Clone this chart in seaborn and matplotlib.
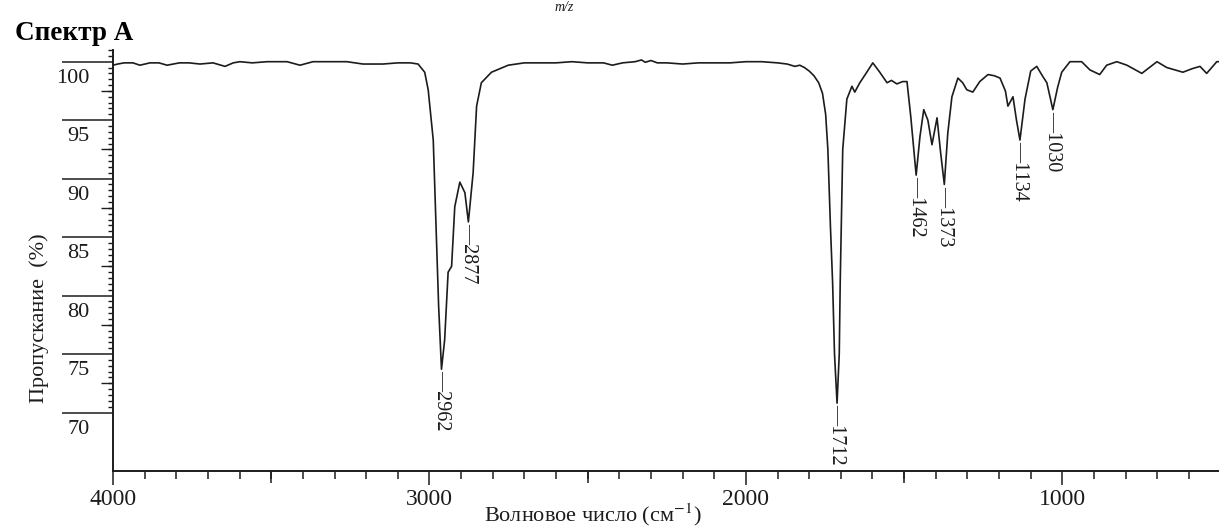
import numpy as np
import pandas as pd
import matplotlib
matplotlib.use('Agg')
import matplotlib.pyplot as plt
import matplotlib.transforms as mtransforms
import seaborn as sns

# ИК-спектр: волновое число (см-1) и пропускание (%)
wavenumber = [4000, 3985, 3965, 3937, 3915, 3883, 3855, 3829, 3790, 3760,
              3725, 3684, 3646, 3620, 3599, 3560, 3513, 3450, 3409, 3368,
              3320, 3261, 3210, 3147, 3100, 3060, 3036, 3015, 3004, 2988,
              2978, 2971, 2962, 2952, 2941, 2930, 2920, 2904, 2888, 2877,
              2862, 2851, 2836, 2804, 2751, 2700, 2650, 2600, 2550, 2500,
              2450, 2422, 2390, 2350, 2330, 2318, 2300, 2280, 2250, 2200,
              2150, 2100, 2050, 2000, 1950, 1900, 1870, 1845, 1830, 1815,
              1800, 1785, 1770, 1758, 1748, 1741, 1733, 1726, 1720, 1712,
              1705, 1702, 1694, 1681, 1665, 1656, 1640, 1618, 1599, 1577,
              1554, 1540, 1523, 1505, 1491, 1479, 1462, 1450, 1438, 1425,
              1412, 1396, 1385, 1373, 1362, 1349, 1330, 1315, 1302, 1283,
              1261, 1235, 1215, 1197, 1180, 1172, 1156, 1145, 1134, 1118,
              1100, 1081, 1061, 1049, 1030, 1015, 1002, 976, 939, 913,
              882, 860, 828, 796, 749, 701, 670, 619, 590, 565,
              544, 512, 505]
transmittance = [99.7, 99.8, 99.9, 99.9, 99.7, 99.9, 99.9, 99.7, 99.9, 99.9,
                 99.8, 99.9, 99.6, 99.9, 100.0, 99.9, 100.0, 100.0, 99.7, 100.0,
                 100.0, 100.0, 99.8, 99.8, 99.9, 99.9, 99.8, 99.1, 97.6, 93.3,
                 84.8, 79.1, 73.7, 76.2, 82.0, 82.5, 87.6, 89.7, 88.8, 86.3,
                 90.5, 96.2, 98.2, 99.1, 99.7, 99.9, 99.9, 99.9, 100.0, 99.9,
                 99.9, 99.7, 99.9, 100.0, 100.15, 99.95, 100.1, 99.9, 99.9, 99.8,
                 99.9, 99.9, 99.9, 100.0, 100.0, 99.9, 99.8, 99.6, 99.7, 99.5,
                 99.2, 98.8, 98.2, 97.3, 95.5, 92.5, 86.0, 81.1, 75.0, 70.8,
                 75.0, 81.1, 92.5, 96.8, 97.9, 97.4, 98.2, 99.1, 99.9, 99.1,
                 98.2, 98.4, 98.1, 98.3, 98.3, 95.3, 90.3, 93.6, 95.9, 95.0,
                 92.9, 95.2, 92.3, 89.5, 93.9, 97.0, 98.6, 98.2, 97.6, 97.4,
                 98.3, 98.9, 98.8, 98.6, 97.5, 96.2, 97.0, 95.0, 93.3, 96.8,
                 99.2, 99.6, 98.7, 98.2, 95.9, 97.8, 99.1, 100.0, 100.0, 99.3,
                 98.9, 99.7, 100.0, 99.7, 99.0, 100.0, 99.5, 99.1, 99.4, 99.6,
                 99.0, 100.0, 100.0]

peak_labels = [2962, 2877, 1712, 1462, 1373, 1134, 1030]
x_major = [4000, 3000, 2000, 1000]
x_mid = [3500, 2500, 1500]
y_major = [70, 75, 80, 85, 90, 95, 100]
y_mid = [72.5, 77.5, 82.5, 87.5, 92.5, 97.5]

sns.set_style('ticks')
plt.rcParams['font.family'] = ['Liberation Serif', 'DejaVu Serif']
plt.rcParams['mathtext.fontset'] = 'stix'

ink = '#1c1c1c'
fig = plt.figure(figsize=(12.19, 5.29), dpi=100)
ax = fig.add_axes([113 / 1219, 58 / 529, 1106 / 1219, 421 / 529])

df = pd.DataFrame({'wn': wavenumber, 'T': transmittance})
sns.lineplot(data=df, x='wn', y='T', ax=ax, color=ink, linewidth=1.2,
             estimator=None, sort=False)

ax.set_xlim(4000, 505)
ax.set_ylim(65, 101)
sns.despine(ax=ax)
for s in ['left', 'bottom']:
    ax.spines[s].set_linewidth(1.4)
    ax.spines[s].set_color(ink)

# ось X: 1000 / 500 / 100
ax.set_xticks(x_major)
ax.set_xticks(np.arange(600, 4000, 100), minor=True)
ax.tick_params(axis='x', which='major', length=10, width=1.1, color=ink,
               labelsize=17, pad=3, labelcolor=ink)
ax.tick_params(axis='x', which='minor', length=6, width=1.1, color=ink)
secx = ax.secondary_xaxis('bottom')
secx.set_xticks(x_mid)
secx.tick_params(length=8.5, width=1.1, color=ink, labelbottom=False)
secx.spines['bottom'].set_visible(False)

# ось Y: длинные штрихи, подписи под штрихом
ax.set_yticks(y_major)
ax.set_yticks(np.arange(70, 101.01, 0.5), minor=True)
ax.tick_params(axis='y', which='major', length=37, width=1.1, color=ink,
               labelsize=16, pad=-20, labelcolor=ink)
ax.tick_params(axis='y', which='minor', length=3.5, width=1.0, color=ink)
secy = ax.secondary_yaxis('left')
secy.set_yticks(y_mid)
secy.tick_params(length=9, width=1.0, color=ink, labelleft=False)
secy.spines['left'].set_visible(False)

offset = mtransforms.ScaledTranslation(0, -0.14, fig.dpi_scale_trans)
for lab in ax.get_yticklabels():
    lab.set_transform(lab.get_transform() + offset)

ax.set_xlabel('Волновое число (см$^{-1}$)', fontsize=16, color=ink)
ax.xaxis.set_label_coords(0.434, -0.072)
ax.set_ylabel('Пропускание  (%)', fontsize=16, color=ink)
ax.yaxis.set_label_coords(-0.058, 0.363)

# подписи пиков
for wn in peak_labels:
    t = transmittance[wavenumber.index(wn)]
    ax.text(wn, t - 0.1, '—' + str(wn), rotation=270, ha='center', va='top',
            fontsize=14.5, color=ink)

fig.text(15 / 1219, 1 - 33 / 529, 'Спектр А', fontsize=19.5, fontweight='bold',
         va='center', ha='left', color='black')
fig.text(0.455, 0.999, 'm/z', fontsize=10, style='italic', va='top',
         ha='left', color=ink)

fig.savefig('out.png', dpi=100)
